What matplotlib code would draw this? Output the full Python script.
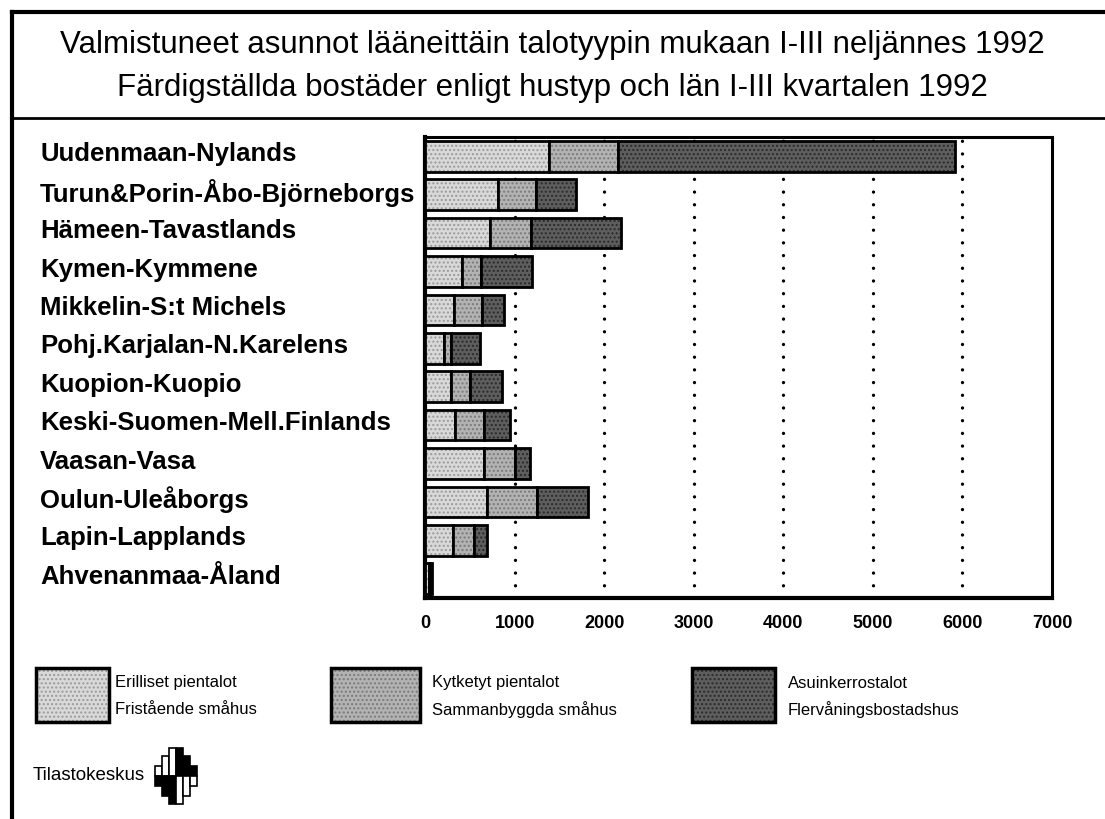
import matplotlib
matplotlib.use("Agg")
import matplotlib.pyplot as plt
import matplotlib.transforms as mtransforms
from matplotlib.patches import Rectangle
import numpy as np

plt.rcParams['font.family'] = ['Liberation Sans', 'DejaVu Sans']

# --- data ---
regions = [
    "Uudenmaan-Nylands", "Turun&Porin-Åbo-Björneborgs", "Hämeen-Tavastlands",
    "Kymen-Kymmene", "Mikkelin-S:t Michels", "Pohj.Karjalan-N.Karelens",
    "Kuopion-Kuopio", "Keski-Suomen-Mell.Finlands", "Vaasan-Vasa",
    "Oulun-Uleåborgs", "Lapin-Lapplands", "Ahvenanmaa-Åland",
]
erilliset = [1385, 810, 730, 410, 320, 215, 285, 335, 655, 695, 315, 45]
kytketyt = [775, 425, 450, 210, 320, 80, 215, 325, 345, 555, 230, 10]
asuinkerros = [3760, 450, 1010, 580, 245, 320, 360, 290, 170, 575, 145, 20]

series_names = [
    ("Erilliset pientalot", "Fristående småhus"),
    ("Kytketyt pientalot", "Sammanbyggda småhus"),
    ("Asuinkerrostalot", "Flervåningsbostadshus"),
]
xticks = [0, 1000, 2000, 3000, 4000, 5000, 6000, 7000]

title1 = "Valmistuneet asunnot lääneittäin talotyypin mukaan I-III neljännes 1992"
title2 = "Färdigställda bostäder enligt hustyp och län I-III kvartalen 1992"

fills = ['#d9d9d9', '#b3b3b3', '#5e5e5e']
hatch_cols = ['#9a9a9a', '#7a7a7a', '#2a2a2a']

W, H = 1105, 819
fig = plt.figure(figsize=(W / 100, H / 100), dpi=100)


def fx(px):
    return px / W


def fy(py):
    return 1 - py / H


# frame lines
fig.add_artist(plt.Line2D([fx(12), fx(12)], [fy(12), fy(819)], color='black', lw=3))
fig.add_artist(plt.Line2D([fx(12), 1], [fy(12), fy(12)], color='black', lw=3))
fig.add_artist(plt.Line2D([fx(12), 1], [fy(118), fy(118)], color='black', lw=2))

fig.text(0.5, fy(45), title1, ha='center', va='center', fontsize=22.5)
fig.text(0.5, fy(88), title2, ha='center', va='center', fontsize=22.5)

ax = fig.add_axes([fx(425), fy(598), fx(1052) - fx(425), fy(137) - fy(598)])

y = np.arange(len(regions))
e = np.array(erilliset)
k = np.array(kytketyt)
a = np.array(asuinkerros)
lefts = [np.zeros(len(e)), e, e + k]
for vals, left, fc, hc in zip([e, k, a], lefts, fills, hatch_cols):
    bars = ax.barh(y, vals, left=left, height=0.8, color=fc, edgecolor='black',
                   linewidth=2, zorder=3)
    for b in bars:
        b.set_hatch('....')
        b._hatch_color = matplotlib.colors.to_rgba(hc)

# dotted gridlines
for xv in xticks[1:-1]:
    ax.axvline(xv, color='black', lw=2.4, linestyle=(0, (0.01, 3.8)),
               dash_capstyle='round', zorder=1)

ax.set_xlim(0, 7000)
ax.set_ylim(len(regions) - 0.5, -0.5)
ax.set_yticks([])
ax.set_xticks(xticks)
ax.set_xticklabels([str(t) for t in xticks], fontsize=13, fontweight='bold')
ax.tick_params(axis='x', length=0, pad=12)
for side in ['left', 'bottom']:
    ax.spines[side].set_linewidth(3)
for side in ['top', 'right']:
    ax.spines[side].set_linewidth(2.2)

trans = mtransforms.blended_transform_factory(fig.transFigure, ax.transData)
for i, name in enumerate(regions):
    ax.text(fx(40), i - 0.05, name, transform=trans, ha='left', va='center',
            fontsize=18.5, fontweight='bold', clip_on=False)

# legend
box_x = [(36, 109), (331, 420), (692, 775)]
text_x = [115, 432, 788]
for (x0, x1), tx, fc, hc, (n1, n2) in zip(box_x, text_x, fills, hatch_cols, series_names):
    r = Rectangle((fx(x0), fy(722)), fx(x1) - fx(x0), fy(668) - fy(722),
                  transform=fig.transFigure, facecolor=fc, edgecolor='black',
                  lw=2.5, hatch='....')
    r._hatch_color = matplotlib.colors.to_rgba(hc)
    fig.add_artist(r)
    fig.text(fx(tx), fy(683), n1, ha='left', va='center', fontsize=12)
    fig.text(fx(tx), fy(710), n2, ha='left', va='center', fontsize=12)

# Tilastokeskus logo text and mark
fig.text(fx(33), fy(776), "Tilastokeskus", ha='left', va='center', fontsize=13.5)
strip_w = 7
heights = [10, 20, 28, 28, 20, 10]
cx, cy = 176, 776
for i, hgt in enumerate(heights):
    x0 = cx - 3 * strip_w + i * strip_w
    left_half = i < 3
    # upper part
    fig.add_artist(Rectangle((fx(x0), fy(cy)), fx(strip_w), fy(cy - hgt) - fy(cy),
                             transform=fig.transFigure,
                             facecolor='white' if left_half else 'black',
                             edgecolor='black', lw=1.2))
    # lower part
    fig.add_artist(Rectangle((fx(x0), fy(cy + hgt)), fx(strip_w), fy(cy) - fy(cy + hgt),
                             transform=fig.transFigure,
                             facecolor='black' if left_half else 'white',
                             edgecolor='black', lw=1.2))

fig.savefig("out.png", dpi=100)
